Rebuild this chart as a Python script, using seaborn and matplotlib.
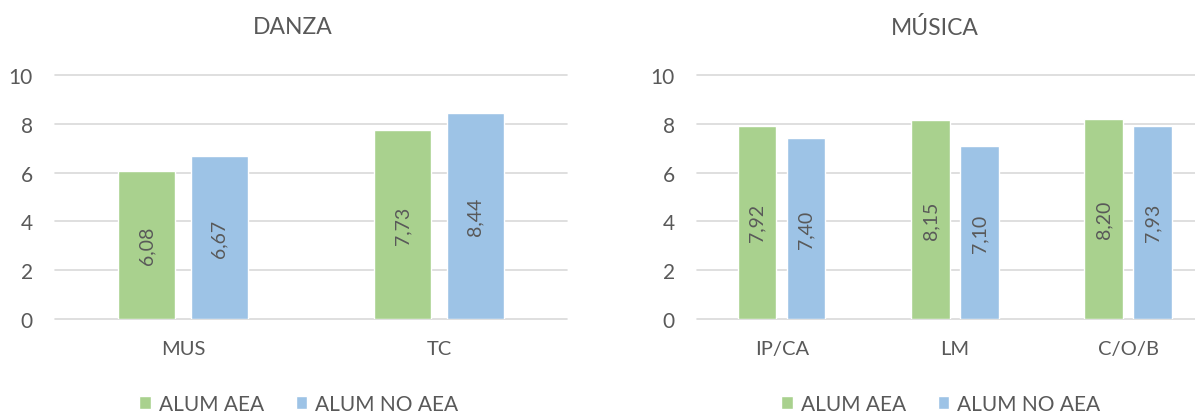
import pandas as pd
import seaborn as sns
import matplotlib.pyplot as plt

# datos
series = ["ALUM AEA", "ALUM NO AEA"]
danza_cats = ["MUS", "TC"]
danza_aea = [6.08, 7.73]
danza_no_aea = [6.67, 8.44]
musica_cats = ["IP/CA", "LM", "C/O/B"]
musica_aea = [7.92, 8.15, 8.20]
musica_no_aea = [7.40, 7.10, 7.93]

colores = ["#A9D18E", "#9DC3E6"]
gris = "#595959"

sns.set_style("white")
plt.rcParams["font.family"] = ["Lato", "DejaVu Sans"]


def tabla(cats, a, b):
    return pd.DataFrame({
        "cat": cats * 2,
        "grupo": [series[0]] * len(cats) + [series[1]] * len(cats),
        "valor": a + b,
    })


df_danza = tabla(danza_cats, danza_aea, danza_no_aea)
df_musica = tabla(musica_cats, musica_aea, musica_no_aea)

fig = plt.figure(figsize=(11.95, 4.14), dpi=100)
ax1 = fig.add_axes([55 / 1195, 94 / 414, 512 / 1195, 244 / 414])
ax2 = fig.add_axes([697 / 1195, 94 / 414, 498 / 1195, 244 / 414])


def dibujar(ax, df, gap, xlim):
    sns.barplot(data=df, x="cat", y="valor", hue="grupo", palette=colores,
                width=0.566, gap=gap, ax=ax, saturation=1)
    ax.set_ylim(0, 10)
    ax.set_xlim(*xlim)
    ax.set_yticks([0, 2, 4, 6, 8, 10])
    for y in [0, 2, 4, 6, 8, 10]:
        ax.axhline(y, color="#D9D9D9", lw=1.2, zorder=0, clip_on=False)
    for s in ax.spines.values():
        s.set_visible(False)
    ax.set_xlabel("")
    ax.set_ylabel("")
    ax.tick_params(axis="both", length=0, colors=gris, labelsize=15)
    ax.tick_params(axis="y", pad=16)
    ax.tick_params(axis="x", labelsize=14.5, pad=15)
    for c in ax.containers:
        etiquetas = [f"{v:.2f}".replace(".", ",") for v in c.datavalues]
        ax.bar_label(c, labels=etiquetas, label_type="center", rotation=90,
                     color=gris, fontsize=14)
    handles, labels = ax.get_legend_handles_labels()
    ax.get_legend().remove()
    return handles, labels


h, l = dibujar(ax1, df_danza, 0.21, (-0.5, 1.5))
dibujar(ax2, df_musica, 0.22, (-0.49, 2.387))

fig.text(293 / 1195, 1 - 28 / 414, "DANZA", ha="center", va="center",
         color=gris, fontsize=16.5)
fig.text(935 / 1195, 1 - 28 / 414, "MÚSICA", ha="center", va="center",
         color=gris, fontsize=16.5)

for cx in [299, 941]:
    fig.legend(h, l, loc="center", bbox_to_anchor=(cx / 1195, 1 - 405 / 414),
               ncol=2, frameon=False, fontsize=15, labelcolor=gris,
               handlelength=0.55, handleheight=0.55, handletextpad=0.4,
               columnspacing=1.5)

plt.savefig("out.png", dpi=100)
